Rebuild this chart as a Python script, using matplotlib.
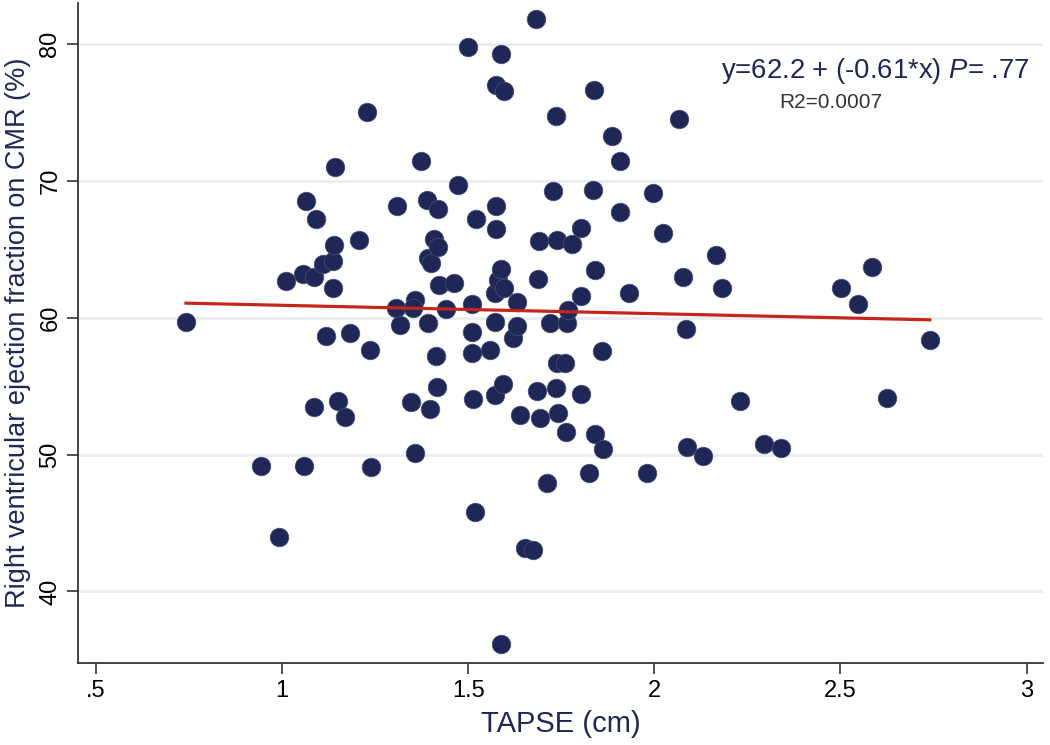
import numpy as np
import matplotlib.pyplot as plt

plt.rcParams['font.family'] = ['Liberation Sans', 'DejaVu Sans']
plt.rcParams['mathtext.fontset'] = 'custom'
plt.rcParams['mathtext.rm'] = 'Liberation Sans'
plt.rcParams['mathtext.it'] = 'Liberation Sans:italic'

# TAPSE (cm) and RVEF on CMR (%)
tapse = [0.742, 0.943, 0.992, 1.011, 1.057, 1.059, 1.065, 1.085, 1.086, 1.092,
         1.111, 1.118, 1.138, 1.139, 1.138, 1.143, 1.150, 1.168, 1.183, 1.208,
         1.228, 1.237, 1.239, 1.306, 1.310, 1.317, 1.346, 1.356, 1.357, 1.353,
         1.374, 1.389, 1.393, 1.393, 1.398, 1.400, 1.408, 1.413, 1.416, 1.420,
         1.420, 1.423, 1.441, 1.462, 1.472, 1.500, 1.511, 1.511, 1.511, 1.513,
         1.518, 1.522, 1.559, 1.572, 1.573, 1.573, 1.574, 1.574, 1.574, 1.580,
         1.588, 1.588, 1.588, 1.593, 1.597, 1.597, 1.621, 1.630, 1.630, 1.639,
         1.653, 1.675, 1.683, 1.684, 1.688, 1.690, 1.693, 1.711, 1.720, 1.729,
         1.736, 1.736, 1.738, 1.739, 1.740, 1.760, 1.763, 1.765, 1.769, 1.778,
         1.802, 1.802, 1.803, 1.825, 1.834, 1.838, 1.841, 1.841, 1.859, 1.863,
         1.887, 1.908, 1.908, 1.933, 1.980, 1.996, 2.024, 2.067, 2.078, 2.084,
         2.087, 2.130, 2.165, 2.183, 2.230, 2.295, 2.340, 2.501, 2.546, 2.586,
         2.626, 2.740]
rvef = [59.72, 49.20, 43.96, 62.65, 63.20, 49.20, 68.55, 53.47, 63.00, 67.20,
        63.94, 58.70, 64.18, 65.28, 62.16, 71.05, 53.95, 52.78, 58.92, 65.70,
        75.03, 57.65, 49.12, 60.70, 68.18, 59.48, 53.87, 50.10, 61.30, 60.70,
        71.49, 68.57, 64.36, 59.60, 53.34, 63.99, 65.75, 57.22, 54.93, 67.96,
        65.20, 62.40, 60.63, 62.57, 69.71, 79.82, 61.00, 58.95, 57.41, 54.05,
        45.79, 67.23, 57.65, 54.36, 61.80, 59.72, 77.02, 68.18, 66.47, 62.77,
        63.55, 79.27, 36.14, 55.17, 76.54, 62.16, 58.50, 59.41, 61.18, 52.90,
        43.16, 43.03, 81.85, 54.68, 62.82, 65.64, 52.70, 47.91, 59.60, 69.23,
        74.76, 54.85, 56.68, 65.69, 53.07, 56.73, 51.64, 59.60, 60.58, 65.38,
        66.55, 54.40, 61.60, 48.68, 69.30, 76.66, 63.50, 51.49, 57.58, 50.40,
        73.25, 71.49, 67.72, 61.80, 48.68, 69.15, 66.18, 74.54, 63.01, 59.17,
        50.58, 49.93, 64.60, 62.20, 53.93, 50.78, 50.47, 62.16, 61.02, 63.70,
        54.12, 58.38]

# fitted line as drawn
fit_intercept = 61.52
fit_slope = -0.61

xticks = [0.5, 1, 1.5, 2, 2.5, 3]
xticklabels = ['.5', '1', '1.5', '2', '2.5', '3']
yticks = [40, 50, 60, 70, 80]

navy = '#1e2756'

fig = plt.figure(figsize=(10.5, 7.45), dpi=100)
ax = fig.add_axes([0.0743, 0.110, 0.919, 0.886])

ax.scatter(tapse, rvef, s=180, color=navy, edgecolors='#4a5078', linewidths=0.5, zorder=3)

fx = np.array([min(tapse), max(tapse)])
ax.plot(fx, fit_intercept + fit_slope * fx, color='#c4261c', lw=2.3, zorder=4)

ax.set_xlim(0.452, 3.044)
ax.set_ylim(34.77, 83.0)
ax.set_xticks(xticks)
ax.set_xticklabels(xticklabels)
ax.set_yticks(yticks)
ax.set_yticklabels([str(v) for v in yticks], rotation=90, va='center')

ax.yaxis.grid(True, color='#e9edf0', lw=2)
ax.set_axisbelow(True)
for side in ['top', 'right']:
    ax.spines[side].set_visible(False)
for side in ['left', 'bottom']:
    ax.spines[side].set_color('#333333')
    ax.spines[side].set_linewidth(1.3)
ax.tick_params(length=8, width=1.2, color='#333333', labelsize=17, labelcolor='black', pad=4)

ax.set_xlabel('TAPSE (cm)', fontsize=21, color=navy, labelpad=6)
ax.set_ylabel('Right ventricular ejection fraction on CMR (%)', fontsize=19.5, color=navy, labelpad=6)

ax.text(1030, 745 - 78, 'y=62.2 + (-0.61*x) $\\it{P}$= .77', transform=None,
        ha='right', va='baseline', fontsize=19.8, color=navy)
ax.text(831, 745 - 108, 'R2=0.0007', transform=None,
        ha='center', va='baseline', fontsize=15, color='#333333')

fig.savefig('out.png', dpi=100)
